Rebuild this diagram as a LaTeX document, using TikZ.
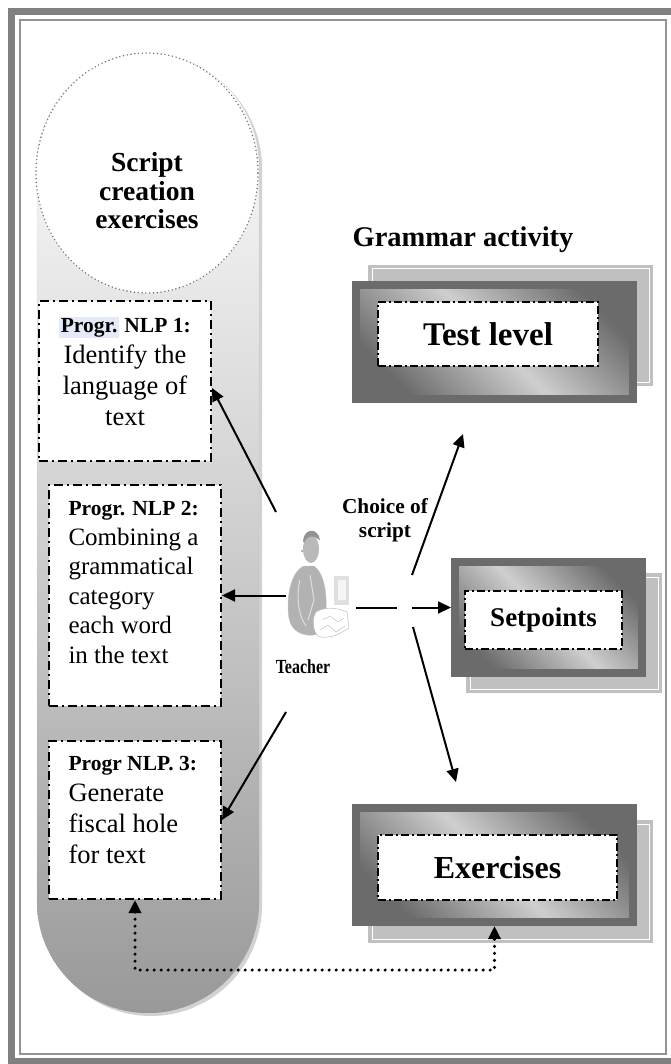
\documentclass[tikz,border=0pt]{standalone}
\usepackage{fontspec}
\usepackage{graphicx}
\setmainfont{Liberation Serif}
\usetikzlibrary{arrows.meta,shapes.geometric,positioning}

\definecolor{bordergray}{RGB}{128,128,128}
\definecolor{framegray}{RGB}{107,107,107}
\definecolor{shadowgray}{RGB}{192,192,192}
\definecolor{hilite}{RGB}{228,234,247}

\newcommand{\fsz}[2]{\fontsize{#1}{#2}\selectfont}
\setlength{\fboxsep}{1.5pt}

\begin{document}
\begin{tikzpicture}[x=1pt,y=-1pt,>={Triangle[length=13pt,width=12pt]},
    nlpbox/.style={draw,line width=2pt,fill=white,
        dash pattern=on 9pt off 4pt on 2pt off 4pt,minimum width=172pt,inner sep=0pt},
    outerframe/.style={draw=framegray,line width=8pt,
        top color=framegray,bottom color=framegray,middle color=gray!38,
        shading angle=-45,inner sep=0pt},
    boxshadow/.style={fill=shadowgray},
    innerbox/.style={draw,line width=2pt,fill=white,
        dash pattern=on 8pt off 3pt on 2pt off 3pt,inner sep=0pt},
    arrowlink/.style={->,line width=2pt},
    dotlink/.style={<->,line width=3.4pt,line cap=round,dash pattern=on 0pt off 7pt}]
    \useasboundingbox (0,0) rectangle (671,1064);

    % page frame
    \draw[bordergray,line width=7pt] (671,12) -- (11.5,12) -- (11.5,1061) -- (671,1061);
    \draw[bordergray!85,line width=1.6pt] (20,20) rectangle (666,1054);

    % left capsule with its soft rim
    \fill[gray!35,xshift=3pt,yshift=-3pt] (37,902) -- (37,165)
        arc[start angle=180,end angle=360,radius=111] -- (259,902)
        arc[start angle=0,end angle=180,radius=111] -- cycle;
    \path[top color=white,bottom color=gray!80,middle color=gray!38,draw=gray,dotted]
        (37,902) -- (37,165)
        arc[start angle=180,end angle=360,radius=111] -- (259,902)
        arc[start angle=0,end angle=180,radius=111] -- cycle;

    \node[ellipse,draw=gray!90!black,fill=white,line width=1.6pt,line cap=round,
        dash pattern=on 0pt off 3.8pt,minimum width=222pt,minimum height=240pt]
        (scriptcirc) at (147,173) {};
    \node[align=center,font=\fsz{27.5}{28.5}\bfseries] (scripttitle)
        at ([yshift=-18pt]scriptcirc.center) {Script\\creation\\exercises};

    \node[nlpbox,minimum height=160pt] (nlp1) at (125,381) {};
    \node[align=center,font=\fsz{26.5}{31}] (nlp1text) at ([yshift=10pt]nlp1.center)
        {{\fsz{21.5}{31}\bfseries\colorbox{hilite}{Progr.} NLP 1:}\\Identify the\\language of\\text};

    \node[nlpbox,minimum height=221pt] (nlp2) at (135,595.5) {};
    \node[align=left,anchor=west,font=\fsz{25}{29.6}] (nlp2text) at ([xshift=17pt,yshift=13pt]nlp2.west)
        {{\fsz{21.5}{29.6}\bfseries Progr. NLP 2:}\\Combining a\\grammatical\\category\\each word\\in the text};

    \node[nlpbox,minimum height=158pt] (nlp3) at (135,820) {};
    \node[align=left,anchor=west,font=\fsz{26.5}{31}] (nlp3text) at ([xshift=17pt,yshift=10pt]nlp3.west)
        {{\fsz{21.5}{31}\bfseries Progr NLP. 3:}\\Generate\\fiscal hole\\for text};

    % right column
    \node[font=\fsz{28.5}{28.5}\bfseries] (gramact) at (463,240) {Grammar activity};

    \fill[boxshadow] (368,265) rectangle (653,386);
    \draw[white,line width=1pt] (372,269) rectangle (649,382);
    \node[outerframe,minimum width=277pt,minimum height=114pt] (testframe) at (494.5,342) {};
    \node[innerbox,minimum width=220pt,minimum height=64pt,font=\fsz{33}{33}\bfseries]
        (testlevel) at (488,334) {Test level};

    \fill[boxshadow] (466,573) rectangle (662,693);
    \draw[white,line width=1pt] (470,577) rectangle (658,689);
    \node[outerframe,minimum width=187pt,minimum height=111pt] (setframe) at (548.5,617.5) {};
    \node[innerbox,minimum width=157pt,minimum height=58pt,font=\fsz{27}{27}\bfseries]
        (setpts) at (543.5,620) {Setpoints};

    \fill[boxshadow] (368,820) rectangle (653,943);
    \draw[white,line width=1pt] (372,824) rectangle (649,939);
    \node[outerframe,minimum width=277pt,minimum height=114pt] (exerframe) at (494.5,865) {};
    \node[innerbox,minimum width=239pt,minimum height=65pt,font=\fsz{32}{32}\bfseries]
        (exer) at (497.5,867.5) {Exercises};

    % the teacher at his desk
    \fill[gray!25] (334,576) rectangle (349,605);
    \fill[gray!8] (338,580) rectangle (346,600);
    \draw[gray!50,fill=gray!60] (304,566) .. controls (290,572) and (286,600) .. (289,618)
        .. controls (291,632) and (305,638) .. (318,634) -- (326,610)
        .. controls (327,590) and (323,572) .. (314,566) -- cycle;
    \draw[gray!25,line width=1pt] (300,580) .. controls (296,595) and (298,615) .. (306,626);
    \draw[gray!25,line width=1pt] (310,575) -- (314,600) -- (308,620);
    \fill[gray!55] (311,549) ellipse [x radius=8,y radius=14];
    \fill[gray!85] (303,541) .. controls (304,528) and (318,527) .. (320,540)
        -- (318,539) .. controls (314,535) and (307,535) .. (304,543) -- cycle;
    \fill[gray!80] (302,551) circle (1.2);
    \draw[gray!60,fill=white] (316,612) .. controls (325,606) and (338,608) .. (347,612)
        -- (349,628) .. controls (340,634) and (328,640) .. (318,636)
        .. controls (312,630) and (312,618) .. (316,612) -- cycle;
    \draw[gray!55] (322,620) -- (330,616) -- (338,622) -- (344,618);
    \draw[gray!55] (320,630) -- (328,625) -- (336,632) -- (345,626);
    \node[font=\fsz{20}{20}\bfseries] (teacher) at (303,667) {\scalebox{0.8}[1]{Teacher}};

    \node[align=center,font=\fsz{21.3}{24}\bfseries] (choice) at (385,520) {Choice of\\script};

    % arrows out of the teacher
    \coordinate (Tup) at (276,512);
    \coordinate (Tleft) at (286,595.5);
    \coordinate (Tdown) at (286,712);
    \coordinate (Cmid) at (356,607.5);
    \coordinate (Cup) at (412,575);
    \coordinate (Cdown) at (413,627);
    \coordinate (Atest) at (463,434);
    \coordinate (Aexer) at (456,782);

    \draw[arrowlink] (Tup) -- ([yshift=-7pt]nlp1.east);
    \draw[arrowlink] (Tleft) -- (Tleft -| nlp2.east);
    \draw[arrowlink] (Tdown) -- (nlp3.east);
    \draw[arrowlink,dash pattern=on 41pt off 15pt] (Cmid) -- ([yshift=10pt]setframe.west);
    \draw[arrowlink] (Cup) -- (Atest);
    \draw[arrowlink] (Cdown) -- (Aexer);

    \draw[dotlink] (nlp3.south) -- ++(0,70) -| (exerframe.south);
\end{tikzpicture}
\end{document}
